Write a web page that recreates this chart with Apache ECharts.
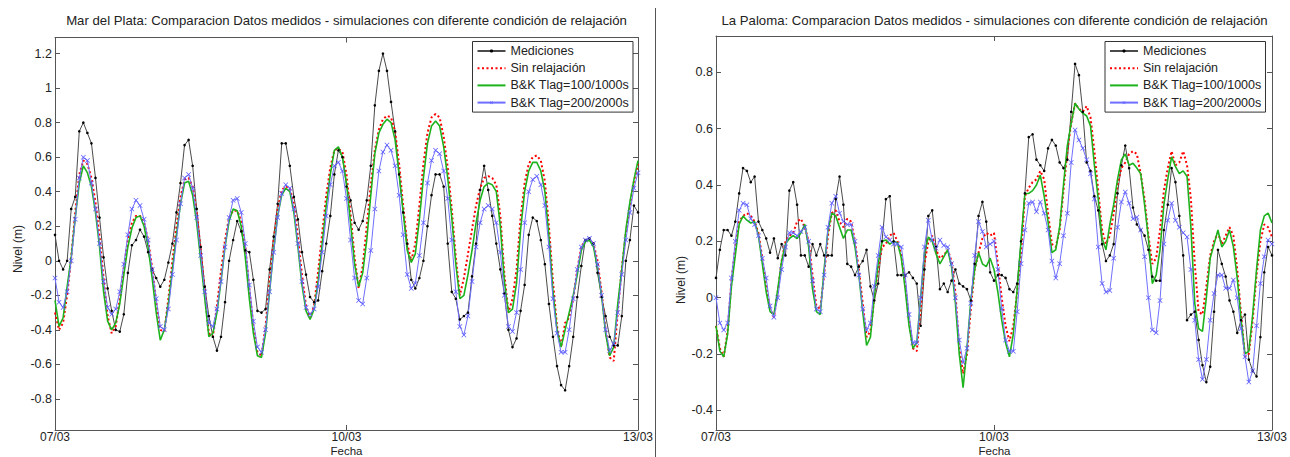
<!DOCTYPE html>
<html>
<head>
<meta charset="utf-8">
<script src="https://cdn.jsdelivr.net/npm/echarts@6/dist/echarts.min.js"></script>
<style>
html,body{margin:0;padding:0;background:#fff;}
#chart{width:1290px;height:457px;}
</style>
</head>
<body>
<div id="chart"></div>
<script>
// ---------- texts ----------
const titleLeft = 'Mar del Plata: Comparacion Datos medidos - simulaciones con diferente condición de relajación';
const titleRight = 'La Paloma: Comparacion Datos medidos - simulaciones con diferente condición de relajación';
const seriesNames = ['Mediciones', 'Sin relajación', 'B&K Tlag=100/1000s', 'B&K Tlag=200/2000s'];
const xTickPositions = [0, 72, 144];          // hours since 07/03 00h
const xTickLabels = ['07/03', '10/03', '13/03'];
const yTicksLeft = [-0.8, -0.6, -0.4, -0.2, 0, 0.2, 0.4, 0.6, 0.8, 1, 1.2];
const yTicksRight = [-0.4, -0.2, 0, 0.2, 0.4, 0.6, 0.8];
const yRangeLeft = [-0.98, 1.293];
const yRangeRight = [-0.47, 0.929];

// ---------- Mar del Plata (hourly, h0..h144) ----------
const mdpMediciones = [
 0.15, 0.00, -0.05, 0.00, 0.30, 0.37, 0.75, 0.80, 0.74, 0.68, 0.48, 0.25,
 0.02, -0.16, -0.29, -0.40, -0.41, -0.31, -0.07, 0.09, 0.12, 0.18, 0.14, 0.05,
 -0.05, -0.10, -0.15, -0.11, -0.01, 0.10, 0.28, 0.45, 0.67, 0.70, 0.55, 0.30,
 0.08, -0.15, -0.32, -0.44, -0.52, -0.44, -0.24, 0.00, 0.12, 0.23, 0.17, 0.06,
 0.05, -0.11, -0.29, -0.30, -0.28, -0.05, 0.14, 0.33, 0.68, 0.68, 0.55, 0.37,
 0.24, 0.05, -0.08, -0.21, -0.24, -0.23, -0.06, 0.10, 0.26, 0.50, 0.64, 0.60,
 0.43, 0.35, 0.22, 0.18, 0.23, 0.35, 0.55, 0.90, 1.10, 1.20, 1.10, 0.92,
 0.75, 0.50, 0.28, 0.10, -0.11, -0.16, -0.10, 0.00, 0.20, 0.38, 0.50, 0.50,
 0.43, 0.10, -0.18, -0.22, -0.34, -0.32, -0.30, -0.09, 0.10, 0.41, 0.55, 0.41,
 0.26, 0.10, -0.05, -0.19, -0.40, -0.50, -0.45, -0.29, -0.14, 0.15, 0.25, 0.23,
 0.12, -0.02, -0.25, -0.44, -0.61, -0.72, -0.75, -0.61, -0.44, -0.21, -0.03, 0.12,
 0.13, 0.10, -0.07, -0.21, -0.32, -0.44, -0.49, -0.49, -0.32, 0.00, 0.12, 0.32,
 0.28
];
const mdpSinRelajacion = [
 -0.30, -0.40, -0.36, -0.20, 0.02, 0.28, 0.50, 0.58, 0.56, 0.48, 0.34, 0.14,
 -0.10, -0.32, -0.42, -0.38, -0.22, -0.04, 0.12, 0.22, 0.26, 0.26, 0.22, 0.12,
 -0.04, -0.24, -0.40, -0.41, -0.22, 0.00, 0.20, 0.37, 0.47, 0.48, 0.43, 0.28,
 0.06, -0.18, -0.42, -0.44, -0.26, -0.06, 0.12, 0.25, 0.29, 0.29, 0.23, 0.08,
 -0.16, -0.38, -0.53, -0.55, -0.38, -0.12, 0.12, 0.30, 0.41, 0.43, 0.42, 0.33,
 0.14, -0.08, -0.26, -0.33, -0.26, -0.06, 0.16, 0.38, 0.54, 0.64, 0.65, 0.63,
 0.50, 0.27, 0.02, -0.16, -0.03, 0.20, 0.44, 0.64, 0.76, 0.82, 0.84, 0.83,
 0.75, 0.56, 0.32, 0.10, 0.00, 0.10, 0.32, 0.56, 0.74, 0.83, 0.85, 0.83,
 0.72, 0.54, 0.30, 0.02, -0.20, -0.10, 0.04, 0.18, 0.32, 0.42, 0.48, 0.49,
 0.48, 0.44, 0.26, -0.08, -0.30, -0.22, -0.05, 0.25, 0.45, 0.56, 0.60, 0.61,
 0.58, 0.46, 0.20, -0.12, -0.38, -0.50, -0.36, -0.33, -0.22, -0.05, 0.08, 0.12,
 0.12, 0.10, 0.00, -0.18, -0.40, -0.56, -0.58, -0.30, -0.04, 0.16, 0.32, 0.46,
 0.56
];
const mdpBK100 = [
 -0.23, -0.38, -0.33, -0.15, 0.02, 0.25, 0.45, 0.55, 0.51, 0.43, 0.28, 0.08,
 -0.18, -0.35, -0.40, -0.36, -0.25, -0.08, 0.08, 0.19, 0.25, 0.26, 0.20, 0.08,
 -0.10, -0.30, -0.46, -0.40, -0.25, -0.05, 0.15, 0.33, 0.45, 0.46, 0.38, 0.22,
 0.00, -0.22, -0.44, -0.42, -0.30, -0.12, 0.08, 0.23, 0.30, 0.29, 0.20, 0.02,
 -0.22, -0.42, -0.55, -0.56, -0.42, -0.18, 0.06, 0.26, 0.38, 0.42, 0.40, 0.28,
 0.08, -0.14, -0.29, -0.34, -0.28, -0.12, 0.10, 0.32, 0.50, 0.64, 0.66, 0.60,
 0.45, 0.22, -0.02, -0.15, -0.07, 0.12, 0.38, 0.62, 0.74, 0.79, 0.82, 0.80,
 0.70, 0.50, 0.28, 0.06, -0.01, 0.04, 0.24, 0.48, 0.68, 0.78, 0.81, 0.78,
 0.66, 0.48, 0.25, -0.02, -0.22, -0.20, -0.08, 0.06, 0.22, 0.35, 0.43, 0.45,
 0.44, 0.40, 0.20, -0.12, -0.30, -0.28, -0.13, 0.18, 0.40, 0.52, 0.57, 0.57,
 0.52, 0.40, 0.14, -0.18, -0.40, -0.50, -0.40, -0.30, -0.20, -0.08, 0.06, 0.11,
 0.12, 0.08, -0.04, -0.20, -0.42, -0.55, -0.50, -0.25, -0.05, 0.18, 0.34, 0.47,
 0.58
];
const mdpBK200 = [
 -0.10, -0.24, -0.27, -0.18, 0.00, 0.24, 0.48, 0.60, 0.58, 0.45, 0.30, 0.10,
 -0.12, -0.27, -0.31, -0.28, -0.18, -0.02, 0.15, 0.30, 0.35, 0.32, 0.24, 0.12,
 -0.05, -0.22, -0.38, -0.40, -0.28, -0.08, 0.12, 0.33, 0.48, 0.50, 0.42, 0.25,
 0.03, -0.18, -0.36, -0.38, -0.28, -0.12, 0.08, 0.25, 0.35, 0.36, 0.28, 0.10,
 -0.14, -0.35, -0.50, -0.53, -0.40, -0.18, 0.05, 0.25, 0.39, 0.44, 0.42, 0.30,
 0.10, -0.12, -0.27, -0.31, -0.28, -0.15, 0.05, 0.26, 0.44, 0.55, 0.57, 0.52,
 0.36, 0.12, -0.10, -0.23, -0.25, -0.10, 0.06, 0.30, 0.52, 0.63, 0.67, 0.64,
 0.55, 0.38, 0.15, -0.08, -0.16, -0.13, 0.03, 0.22, 0.45, 0.58, 0.64, 0.62,
 0.52, 0.36, 0.12, -0.18, -0.38, -0.43, -0.32, -0.12, 0.08, 0.22, 0.30, 0.32,
 0.30, 0.22, 0.05, -0.20, -0.38, -0.41, -0.30, -0.05, 0.22, 0.40, 0.47, 0.49,
 0.44, 0.32, 0.08, -0.22, -0.42, -0.53, -0.53, -0.40, -0.22, -0.05, 0.08, 0.12,
 0.13, 0.10, -0.02, -0.20, -0.40, -0.52, -0.48, -0.30, -0.08, 0.12, 0.28, 0.42,
 0.51
];

// ---------- La Paloma (hourly, h0..h144) ----------
const lpMediciones = [
 0.07, 0.17, 0.24, 0.24, 0.22, 0.27, 0.37, 0.46, 0.45, 0.41, 0.43, 0.27,
 0.24, 0.21, 0.16, 0.21, 0.14, 0.19, 0.15, 0.38, 0.41, 0.33, 0.15, 0.15,
 0.11, 0.19, 0.15, 0.19, 0.15, 0.15, 0.15, 0.35, 0.43, 0.33, 0.12, 0.11,
 0.08, 0.11, 0.13, 0.17, 0.04, -0.01, 0.05, 0.20, 0.35, 0.36, 0.20, 0.08,
 0.08, 0.08, 0.09, 0.07, 0.05, -0.10, 0.10, 0.29, 0.31, 0.18, 0.03, 0.05,
 0.02, 0.06, 0.10, 0.05, 0.04, 0.03, -0.01, 0.12, 0.29, 0.34, 0.27, 0.09,
 0.06, 0.08, 0.08, 0.07, 0.03, 0.02, 0.05, 0.20, 0.37, 0.57, 0.58, 0.49,
 0.47, 0.45, 0.53, 0.56, 0.54, 0.48, 0.46, 0.49, 0.66, 0.83, 0.79, 0.66,
 0.48, 0.45, 0.36, 0.31, 0.19, 0.13, 0.15, 0.19, 0.37, 0.47, 0.54, 0.46,
 0.32, 0.26, 0.24, 0.22, 0.17, 0.075, 0.06, 0.06, 0.24, 0.33, 0.46, 0.41,
 0.29, 0.15, -0.08, -0.06, -0.05, -0.15, -0.24, -0.30, -0.245, -0.05, 0.17, 0.12,
 0.075, -0.01, -0.05, -0.125, -0.08, -0.06, -0.22, -0.26, -0.28, -0.14, 0.09, 0.18,
 0.15
];
const lpSinRelajacion = [
 -0.10, -0.18, -0.21, -0.12, 0.06, 0.18, 0.27, 0.29, 0.30, 0.29, 0.27, 0.23,
 0.14, 0.04, -0.04, -0.07, 0.02, 0.13, 0.20, 0.22, 0.23, 0.27, 0.28, 0.25,
 0.20, 0.08, -0.03, -0.04, 0.08, 0.22, 0.30, 0.31, 0.27, 0.25, 0.28, 0.27,
 0.20, 0.10, -0.02, -0.14, -0.12, 0.00, 0.10, 0.18, 0.19, 0.22, 0.23, 0.20,
 0.15, 0.05, -0.08, -0.18, -0.19, -0.04, 0.12, 0.20, 0.22, 0.17, 0.14, 0.15,
 0.17, 0.13, 0.02, -0.18, -0.27, -0.20, -0.04, 0.10, 0.16, 0.21, 0.23, 0.22,
 0.23, 0.12, 0.00, -0.10, -0.155, -0.10, 0.02, 0.15, 0.36, 0.39, 0.41, 0.42,
 0.45, 0.42, 0.30, 0.19, 0.18, 0.24, 0.38, 0.52, 0.62, 0.69, 0.67, 0.66,
 0.68, 0.64, 0.52, 0.38, 0.24, 0.19, 0.22, 0.30, 0.40, 0.46, 0.48, 0.51,
 0.52, 0.51, 0.44, 0.35, 0.22, 0.12, 0.14, 0.24, 0.38, 0.46, 0.52, 0.47,
 0.48, 0.52, 0.47, 0.35, 0.12, -0.05, -0.06, 0.04, 0.15, 0.20, 0.23, 0.19,
 0.22, 0.25, 0.22, 0.10, -0.06, -0.21, -0.20, -0.08, 0.08, 0.20, 0.26, 0.25,
 0.215
];
const lpBK100 = [
 -0.10, -0.19, -0.21, -0.13, 0.04, 0.15, 0.26, 0.29, 0.275, 0.265, 0.27, 0.22,
 0.12, 0.02, -0.05, -0.06, 0.03, 0.13, 0.19, 0.21, 0.22, 0.21, 0.23, 0.26,
 0.18, 0.03, -0.05, -0.06, 0.10, 0.24, 0.30, 0.29, 0.25, 0.21, 0.24, 0.24,
 0.18, 0.08, -0.05, -0.17, -0.14, 0.00, 0.12, 0.20, 0.205, 0.19, 0.20, 0.195,
 0.14, 0.03, -0.10, -0.18, -0.16, 0.00, 0.16, 0.215, 0.20, 0.155, 0.12, 0.145,
 0.17, 0.11, -0.02, -0.20, -0.32, -0.18, -0.01, 0.10, 0.16, 0.12, 0.11, 0.14,
 0.10, 0.02, -0.08, -0.16, -0.21, -0.13, 0.03, 0.20, 0.37, 0.37, 0.38, 0.40,
 0.435, 0.36, 0.27, 0.16, 0.17, 0.25, 0.40, 0.54, 0.62, 0.69, 0.67, 0.655,
 0.645, 0.61, 0.47, 0.35, 0.21, 0.17, 0.26, 0.33, 0.42, 0.49, 0.51, 0.47,
 0.477, 0.46, 0.44, 0.33, 0.21, 0.05, 0.08, 0.17, 0.33, 0.42, 0.50, 0.465,
 0.44, 0.45, 0.43, 0.25, -0.02, -0.11, -0.12, 0.00, 0.14, 0.19, 0.24, 0.18,
 0.20, 0.24, 0.18, 0.07, -0.08, -0.20, -0.19, -0.06, 0.10, 0.24, 0.29, 0.30,
 0.265
];
const lpBK200 = [
 0.00, -0.09, -0.115, -0.09, 0.07, 0.20, 0.31, 0.335, 0.33, 0.28, 0.26, 0.22,
 0.14, 0.07, -0.03, -0.07, 0.00, 0.10, 0.18, 0.23, 0.23, 0.22, 0.235, 0.25,
 0.20, 0.06, -0.04, -0.05, 0.08, 0.25, 0.335, 0.36, 0.30, 0.27, 0.26, 0.26,
 0.20, 0.08, -0.04, -0.115, -0.09, 0.04, 0.15, 0.25, 0.215, 0.205, 0.19, 0.19,
 0.18, 0.08, -0.06, -0.16, -0.16, 0.00, 0.18, 0.275, 0.205, 0.175, 0.205, 0.185,
 0.18, 0.12, 0.00, -0.15, -0.23, -0.18, -0.02, 0.15, 0.27, 0.235, 0.18, 0.19,
 0.20, 0.10, -0.04, -0.15, -0.19, -0.19, -0.05, 0.12, 0.24, 0.335, 0.34, 0.305,
 0.34, 0.30, 0.24, 0.13, 0.07, 0.12, 0.22, 0.30, 0.48, 0.595, 0.56, 0.53,
 0.49, 0.44, 0.35, 0.18, 0.05, 0.02, 0.025, 0.14, 0.25, 0.34, 0.375, 0.335,
 0.28, 0.285, 0.24, 0.145, 0.00, -0.115, -0.125, -0.01, 0.19, 0.275, 0.335, 0.275,
 0.25, 0.23, 0.215, 0.10, -0.08, -0.22, -0.29, -0.22, -0.08, 0.015, 0.08, 0.08,
 0.033, 0.033, 0.063, 0.00, -0.11, -0.21, -0.30, -0.26, -0.10, 0.05, 0.145, 0.205,
 0.19
];

// ---------- chart ----------
const FONT = 'Liberation Sans, Arial, Helvetica, sans-serif';
const AXIS_COLOR = '#555';
const TEXT_COLOR = '#222';
const CROSS = 'path://M0,1L1,0L5,4L9,0L10,1L6,5L10,9L9,10L5,6L1,10L0,9L4,5Z';

const toPairs = arr => arr.map((v, i) => [i, v]);
const fmtY = v => String(Math.round(v * 10) / 10);

function xAxes(gridIndex) {
  return [
    { type: 'value', gridIndex, position: 'bottom', min: 0, max: 144, interval: 72,
      axisLine: { show: true, onZero: false, lineStyle: { color: AXIS_COLOR, width: 1 } },
      axisTick: { show: true, inside: true, length: 5, lineStyle: { color: AXIS_COLOR } },
      axisLabel: { show: true, margin: 1, color: TEXT_COLOR, fontSize: 12, fontFamily: FONT,
        formatter: v => { const k = xTickPositions.indexOf(v); return k >= 0 ? xTickLabels[k] : ''; } },
      splitLine: { show: false } },
    { type: 'value', gridIndex, position: 'top', min: 0, max: 144, interval: 72,
      axisLine: { show: true, onZero: false, lineStyle: { color: AXIS_COLOR, width: 1 } },
      axisTick: { show: true, inside: true, length: 5, lineStyle: { color: AXIS_COLOR } },
      axisLabel: { show: false }, splitLine: { show: false } }
  ];
}
function yAxes(gridIndex, range, ticks) {
  return [
    { type: 'value', gridIndex, position: 'left', min: range[0], max: range[1],
      axisLine: { show: true, onZero: false, lineStyle: { color: AXIS_COLOR, width: 1 } },
      axisTick: { show: true, inside: true, length: 5, customValues: ticks, lineStyle: { color: AXIS_COLOR } },
      axisLabel: { show: true, margin: 3, customValues: ticks, color: TEXT_COLOR, fontSize: 12.5, fontFamily: FONT, formatter: fmtY },
      splitLine: { show: false } },
    { type: 'value', gridIndex, position: 'right', min: range[0], max: range[1],
      axisLine: { show: true, onZero: false, lineStyle: { color: AXIS_COLOR, width: 1 } },
      axisTick: { show: true, inside: true, length: 5, customValues: ticks, lineStyle: { color: AXIS_COLOR } },
      axisLabel: { show: false }, splitLine: { show: false } }
  ];
}
function panelSeries(axisIdx, med, sin, bk1, bk2) {
  return [
    { name: seriesNames[0], type: 'line', xAxisIndex: axisIdx, yAxisIndex: axisIdx, data: toPairs(med),
      symbol: 'circle', symbolSize: 2.6, showSymbol: true, showAllSymbol: true,
      lineStyle: { color: '#4a4a4a', width: 1 }, itemStyle: { color: '#000' } },
    { name: seriesNames[1], type: 'line', xAxisIndex: axisIdx, yAxisIndex: axisIdx, data: toPairs(sin),
      symbol: 'none', lineStyle: { color: '#ff0000', width: 2, type: [2, 2.5] }, itemStyle: { color: '#ff0000' } },
    { name: seriesNames[2], type: 'line', xAxisIndex: axisIdx, yAxisIndex: axisIdx, data: toPairs(bk1),
      symbol: 'none', lineStyle: { color: '#1db31d', width: 1.6 }, itemStyle: { color: '#1db31d' } },
    { name: seriesNames[3], type: 'line', xAxisIndex: axisIdx, yAxisIndex: axisIdx, data: toPairs(bk2),
      symbol: CROSS, symbolSize: 5, showSymbol: true, showAllSymbol: true,
      lineStyle: { color: '#6f6fff', width: 1 }, itemStyle: { color: '#5a5aff' } }
  ];
}
function legendAt(left, top) {
  return { left, top, orient: 'vertical',
    data: [
      { name: seriesNames[0] },
      { name: seriesNames[1], itemStyle: { opacity: 0 } },
      { name: seriesNames[2], itemStyle: { opacity: 0 } },
      { name: seriesNames[3] }
    ],
    itemWidth: 28, itemHeight: 4, itemGap: 4.2, padding: [3, 4, 3, 4],
    borderColor: '#333', borderWidth: 1, borderRadius: 0, backgroundColor: '#fff',
    selectedMode: false,
    textStyle: { color: TEXT_COLOR, fontSize: 12.5, fontFamily: FONT } };
}
function txt(x, y, text, size, rot) {
  return { type: 'text', x, y, rotation: rot || 0, silent: true, z: 100,
    style: { text, fill: TEXT_COLOR, font: size + 'px ' + FONT,
      align: 'center', verticalAlign: 'middle', textAlign: 'center', textVerticalAlign: 'middle' } };
}

const chart = echarts.init(document.getElementById('chart'), null, { renderer: 'svg' });
chart.setOption({
  animation: false,
  backgroundColor: '#fff',
  grid: [
    { left: 55, top: 37.5, width: 583, height: 392.5, containLabel: false },
    { left: 716, top: 36, width: 557, height: 394, containLabel: false }
  ],
  xAxis: [...xAxes(0), ...xAxes(1)],
  yAxis: [...yAxes(0, yRangeLeft, yTicksLeft), ...yAxes(1, yRangeRight, yTicksRight)],
  legend: [legendAt(472.5, 41.5), legendAt(1105, 41.5)],
  series: [
    ...panelSeries(0, mdpMediciones, mdpSinRelajacion, mdpBK100, mdpBK200),
    ...panelSeries(2, lpMediciones, lpSinRelajacion, lpBK100, lpBK200)
  ],
  graphic: [
    txt(346.5, 20, titleLeft, 13.2),
    txt(994.5, 20, titleRight, 13.2),
    txt(18, 249, 'Nivel (m)', 12, Math.PI / 2),
    txt(681, 280, 'Nivel (m)', 12, Math.PI / 2),
    txt(346.5, 450.5, 'Fecha', 11.5),
    txt(994.5, 450.5, 'Fecha', 11.5),
    { type: 'line', silent: true, shape: { x1: 655.5, y1: 8, x2: 655.5, y2: 457 },
      style: { stroke: '#555', lineWidth: 1 } }
  ]
});
</script>
</body>
</html>
